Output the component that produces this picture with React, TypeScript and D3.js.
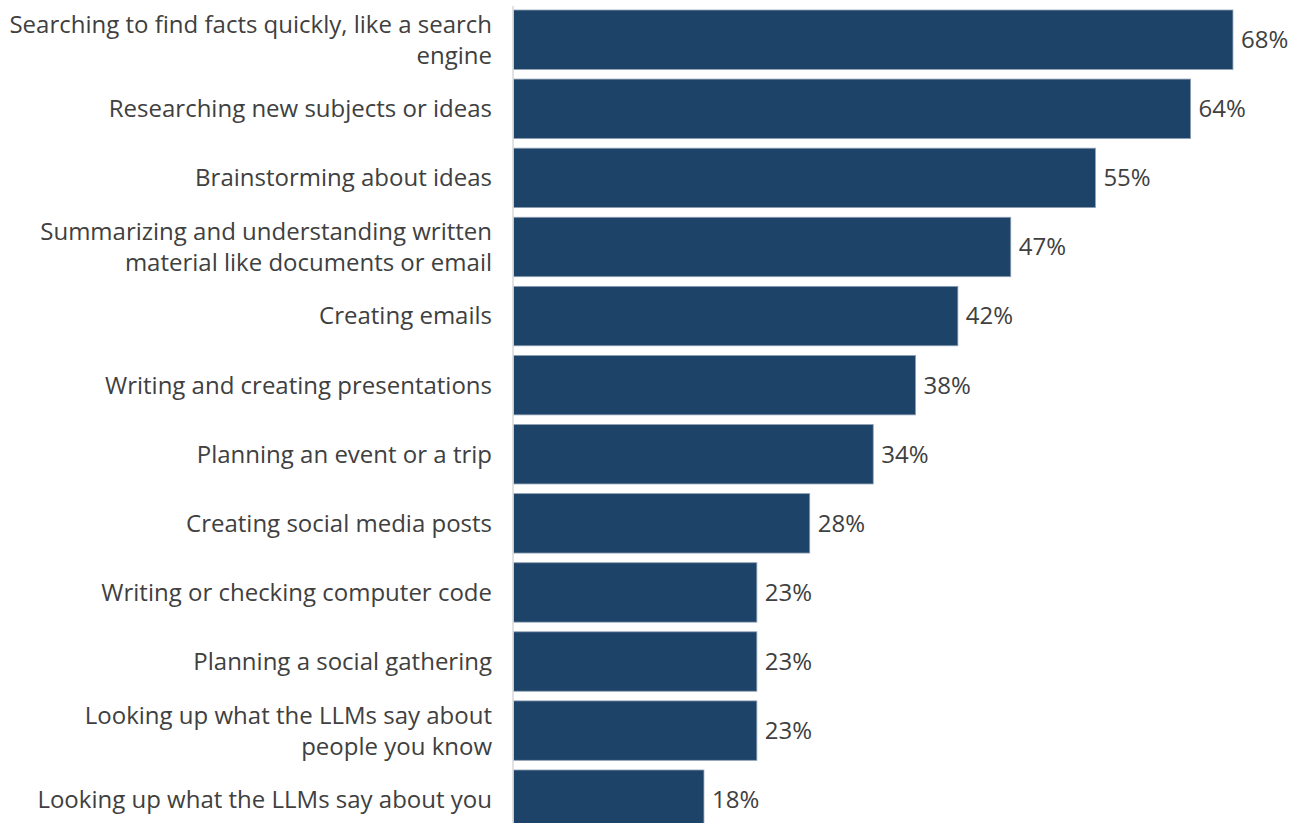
import React from "react";
import * as d3 from "d3";

const categories: string[][] = [
  ["Searching to find facts quickly, like a search", "engine"],
  ["Researching new subjects or ideas"],
  ["Brainstorming about ideas"],
  ["Summarizing and understanding written", "material like documents or email"],
  ["Creating emails"],
  ["Writing and creating presentations"],
  ["Planning an event or a trip"],
  ["Creating social media posts"],
  ["Writing or checking computer code"],
  ["Planning a social gathering"],
  ["Looking up what the LLMs say about", "people you know"],
  ["Looking up what the LLMs say about you"],
];
const values: number[] = [68, 64, 55, 47, 42, 38, 34, 28, 23, 23, 23, 18];

const W = 1297;
const H = 823;
const FONT = "'Open Sans', sans-serif";

export default function App() {
  const x = d3.scaleLinear().domain([0, 100]).range([513.5, 513.5 + 1058]);
  const idx = d3.range(values.length);
  const y = d3
    .scaleBand<number>()
    .domain(idx)
    .range([10 - 69.09 * 0.07, 10 - 69.09 * 0.07 + 69.09 * 12])
    .paddingInner(0.14)
    .paddingOuter(0.07);
  const lineH = 31;
  return (
    <div style={{ position: "fixed", left: 0, top: 0, width: W, height: H, background: "#fff" }}>
      <svg width={W} height={H} style={{ display: "block" }}>
        {idx.map((i) => {
          const y0 = y(i)!;
          const bw = y.bandwidth();
          const cy = y0 + bw / 2;
          const lines = categories[i];
          return (
            <g key={i}>
              <rect
                x={x(0)}
                y={y0}
                width={x(values[i]) - x(0)}
                height={bw}
                fill="#1e4369"
                stroke="#8fa0b4"
                strokeWidth={0.8}
              />
              <text
                x={x(values[i]) + 8}
                y={cy}
                dy="0.35em"
                fontFamily={FONT}
                fontSize={24}
                fill="#404040"
              >
                {values[i]}%
              </text>
              <text textAnchor="end" fontFamily={FONT} fontSize={24} fill="#404040">
                {lines.map((l, j) => (
                  <tspan key={j} x={492} y={cy + (j - (lines.length - 1) / 2) * lineH} dy="0.35em">
                    {l}
                  </tspan>
                ))}
              </text>
            </g>
          );
        })}
        <line x1={513} x2={513} y1={6} y2={H} stroke="#d9d9d9" strokeWidth={1.5} />
      </svg>
    </div>
  );
}
